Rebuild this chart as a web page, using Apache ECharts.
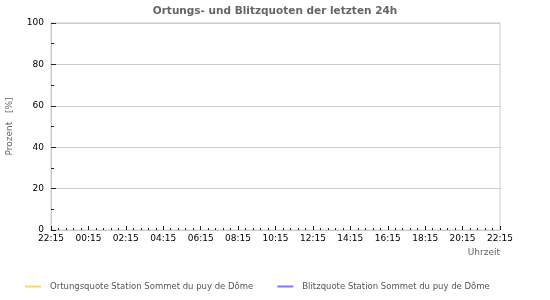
<!DOCTYPE html>
<html>
<head>
<meta charset="utf-8">
<script src="https://cdn.jsdelivr.net/npm/echarts@6/dist/echarts.min.js"></script>
<style>
html,body{margin:0;padding:0;background:#fff;}
#c{width:550px;height:300px;}
</style>
</head>
<body>
<div id="c"></div>
<script>
var titleText = 'Ortungs- und Blitzquoten der letzten 24h';
var xTickLabels = ['22:15','00:15','02:15','04:15','06:15','08:15','10:15','12:15','14:15','16:15','18:15','20:15','22:15'];
var seriesNames = ['Ortungsquote Station Sommet du puy de Dôme', 'Blitzquote Station Sommet du puy de Dôme'];
var seriesColors = ['#ffd27a', '#7878ff'];
var ortungsquote = [];
var blitzquote = [];
var yTicks = [0, 20, 40, 60, 80, 100];

var chart = echarts.init(document.getElementById('c'), null, {renderer: 'canvas'});
var font = 'DejaVu Sans';
chart.setOption({
  animation: false,
  backgroundColor: '#fff',
  title: {
    text: titleText, left: 'center', top: 1,
    textStyle: {fontFamily: font, fontSize: 10.5, fontWeight: 'bold', color: '#666'}
  },
  legend: {
    bottom: 9, left: 25, padding: 0, itemGap: 24, itemWidth: 16, itemHeight: 2, icon: 'rect',
    textStyle: {fontFamily: font, fontSize: 8.5, color: '#555', padding: [0, 0, 0, 4]},
    data: seriesNames
  },
  grid: {left: 51, right: 50, top: 23, bottom: 70, show: true, borderColor: '#ccc', borderWidth: 1,
    containLabel: false, outerBoundsMode: 'none'},
  xAxis: {
    type: 'value', min: 0, max: xTickLabels.length - 1, interval: 1,
    name: 'Uhrzeit', nameLocation: 'end', nameGap: 0,
    nameTextStyle: {fontFamily: font, fontSize: 9, color: '#666', align: 'right', verticalAlign: 'top', padding: [18, 0, 0, 0]},
    axisLine: {show: true, lineStyle: {color: '#ccc'}},
    axisTick: {show: true, inside: true, length: 4, lineStyle: {color: '#222'}},
    minorTick: {show: true, splitNumber: 5, length: 2, lineStyle: {color: '#222'}},
    axisLabel: {fontFamily: font, fontSize: 9, color: '#000', margin: 4,
      formatter: function (v) { return xTickLabels[Math.round(v)] || ''; }},
    splitLine: {show: false}
  },
  yAxis: {
    type: 'value', min: yTicks[0], max: yTicks[yTicks.length - 1], interval: 20,
    name: 'Prozent   [%]', nameLocation: 'middle', nameGap: 37, nameRotate: 90,
    nameTextStyle: {fontFamily: font, fontSize: 9, color: '#666'},
    axisLine: {show: true, lineStyle: {color: '#ccc'}},
    axisTick: {show: true, inside: true, length: 5, lineStyle: {color: '#222'}},
    minorTick: {show: true, splitNumber: 2, length: 3, lineStyle: {color: '#222'}},
    axisLabel: {fontFamily: font, fontSize: 9, color: '#000', margin: 7},
    splitLine: {show: true, lineStyle: {color: '#ccc'}}
  },
  series: [
    {name: seriesNames[0], type: 'line', data: ortungsquote, showSymbol: false, itemStyle: {color: seriesColors[0]}, lineStyle: {color: seriesColors[0]}},
    {name: seriesNames[1], type: 'line', data: blitzquote, showSymbol: false, itemStyle: {color: seriesColors[1]}, lineStyle: {color: seriesColors[1]}}
  ]
});
</script>
</body>
</html>
